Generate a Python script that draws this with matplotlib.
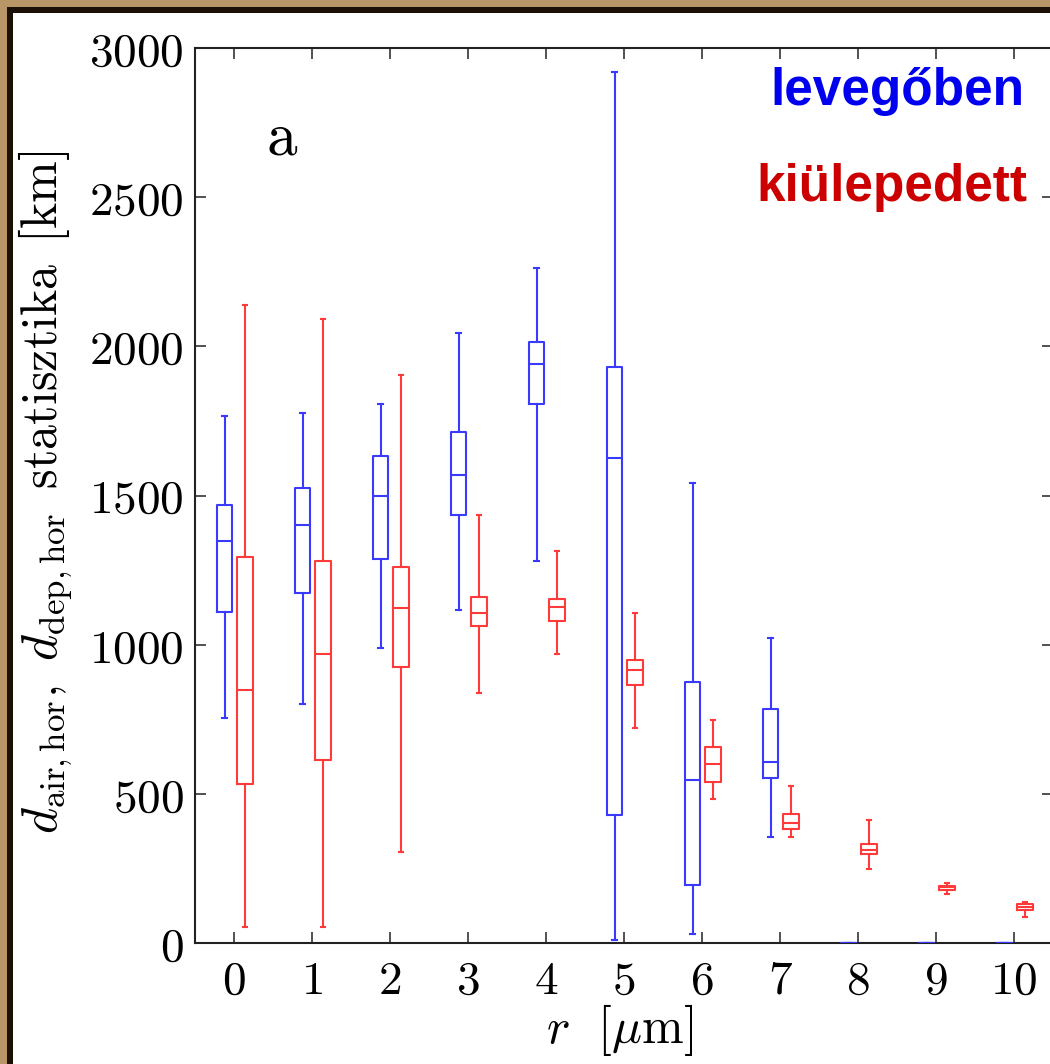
import matplotlib
matplotlib.use("Agg")
import matplotlib.pyplot as plt
from matplotlib.patches import Rectangle

plt.rcParams['mathtext.fontset'] = 'cm'
plt.rcParams['font.family'] = ['DejaVu Serif']

# r [um] categories
radius = [0, 1, 2, 3, 4, 5, 6, 7, 8, 9, 10]

# levegoben (airborne): whisker low, q1, median, q3, whisker high
air_lo  = [754, 801, 989, 1116, 1281, 10, 30, 355, 0, 0, 0]
air_q1  = [1110, 1173, 1287, 1435, 1807, 429, 194, 553, 0, 0, 0]
air_med = [1348, 1401, 1498, 1569, 1941, 1626, 546, 607, 0, 0, 0]
air_q3  = [1468, 1525, 1633, 1713, 2015, 1931, 875, 784, 0, 0, 0]
air_hi  = [1765, 1778, 1807, 2045, 2263, 2920, 1542, 1022, 0, 0, 0]

# kiulepedett (deposited)
dep_lo  = [54, 54, 305, 838, 969, 721, 483, 355, 248, 164, 87]
dep_q1  = [533, 613, 925, 1063, 1079, 865, 540, 382, 298, 178, 111]
dep_med = [848, 969, 1123, 1106, 1126, 915, 600, 402, 312, 188, 121]
dep_q3  = [1294, 1281, 1261, 1160, 1153, 949, 657, 432, 332, 191, 131]
dep_hi  = [2139, 2092, 1904, 1435, 1314, 1106, 748, 527, 412, 201, 137]


def make_stats(lo, q1, med, q3, hi):
    return [dict(whislo=a, q1=b, med=c, q3=d, whishi=e, fliers=[])
            for a, b, c, d, e in zip(lo, q1, med, q3, hi)]


def draw(ax, stats, pos, col):
    ls = dict(color=col, linewidth=1.5, zorder=3)
    ax.bxp(stats, positions=pos, widths=0.2, capwidths=0.06, showfliers=False,
           boxprops=ls, whiskerprops=ls, capprops=ls, medianprops=ls,
           manage_ticks=False)


W, H = 1050, 1064
fig = plt.figure(figsize=(W / 100, H / 100), dpi=100)
fig.patch.set_facecolor('white')
# brown/black frame on the left and top
fig.add_artist(Rectangle((0, 0), 1, 1, transform=fig.transFigure,
                         facecolor='#b89668', edgecolor='none', zorder=-3))
fig.add_artist(Rectangle((7 / W, 0), 1, 1 - 7 / H, transform=fig.transFigure,
                         facecolor='#1a1008', edgecolor='none', zorder=-2))
fig.add_artist(Rectangle((13 / W, 0), 1, 1 - 13 / H, transform=fig.transFigure,
                         facecolor='white', edgecolor='none', zorder=-1))

ax = fig.add_axes([195 / W, 1 - 943 / H, (1053 - 195) / W, 895 / H])
ax.patch.set_alpha(0)

draw(ax, make_stats(air_lo, air_q1, air_med, air_q3, air_hi),
     [r - 0.12 for r in radius], '#3a3aff')
draw(ax, make_stats(dep_lo, dep_q1, dep_med, dep_q3, dep_hi),
     [r + 0.14 for r in radius], '#ff3a3a')

ax.set_xlim(-0.5, 10.5)
ax.set_ylim(0, 3000)
ax.set_xticks(radius)
ax.set_xticklabels([f'${r}$' for r in radius])
yt = [0, 500, 1000, 1500, 2000, 2500, 3000]
ax.set_yticks(yt)
ax.set_yticklabels([f'${v}$' for v in yt])
ax.tick_params(direction='in', length=8, width=1.2, top=True, right=True,
               labelsize=34, color='#333333')
ax.tick_params(axis='x', pad=11)
ax.tick_params(axis='y', pad=8)
for s in ax.spines.values():
    s.set_linewidth(1.5)
    s.set_color('#222222')

fig.text(46 / W, 1 - 492 / H,
         r'$d_{\mathrm{air,hor}},\ d_{\mathrm{dep,hor}}\ \,\mathrm{statisztika}\ \,[\mathrm{km}]$',
         rotation=90, ha='center', va='center', fontsize=36)
fig.text(620 / W, 1 - 1030 / H, r'$r\ \ [\mu\mathrm{m}]$',
         ha='center', va='center', fontsize=36)

ax.text(0.62, 2700, r'$\mathrm{a}$', fontsize=44, ha='center', va='center')
ax.text(1025 / W, 1 - 92 / H, 'levegőben', transform=fig.transFigure,
        ha='right', va='center', fontsize=37, fontweight='bold',
        color='#0000ee', family='Liberation Sans')
ax.text(1027 / W, 1 - 187 / H, 'kiülepedett', transform=fig.transFigure,
        ha='right', va='center', fontsize=37, fontweight='bold',
        color='#cc0000', family='Liberation Sans')

fig.savefig('out.png', dpi=100)
